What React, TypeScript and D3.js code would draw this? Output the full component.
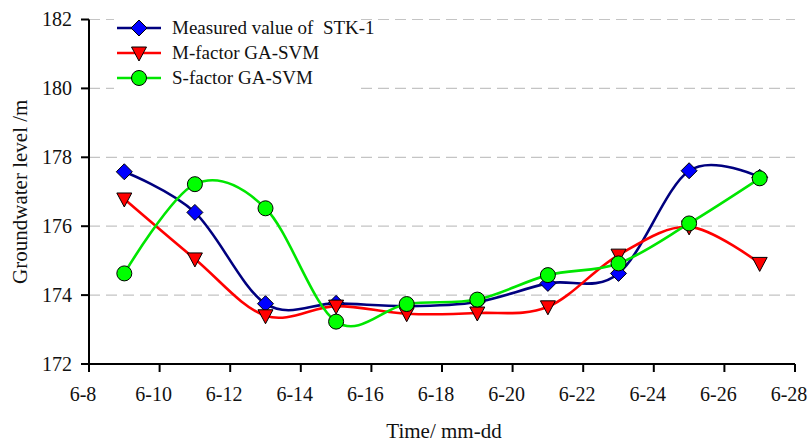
import React from "react";
import * as d3 from "d3";

// Observation dates (day of June) and tick labels
const days = [9, 11, 13, 15, 17, 19, 21, 23, 25, 27];
const xTickDays = [8, 10, 12, 14, 16, 18, 20, 22, 24, 26, 28];
const yTicks = [172, 174, 176, 178, 180, 182];

// Groundwater level series (m)
const measured = [177.58, 176.4, 173.75, 173.76, 173.68, 173.8, 174.34, 174.63, 177.61, 177.42];
const mFactor = [176.79, 175.05, 173.4, 173.68, 173.46, 173.48, 173.66, 175.16, 175.98, 174.92];
const sFactor = [174.63, 177.22, 176.52, 173.23, 173.74, 173.87, 174.58, 174.92, 176.08, 177.39];

type Marker = "diamond" | "triangle" | "circle";
const series: { name: string; values: number[]; line: string; fill: string; marker: Marker }[] = [
  { name: "Measured value of\u00a0 STK-1", values: measured, line: "#00007f", fill: "#0000ff", marker: "diamond" },
  { name: "M-factor GA-SVM", values: mFactor, line: "#ff0000", fill: "#ff0000", marker: "triangle" },
  { name: "S-factor GA-SVM", values: sFactor, line: "#00e600", fill: "#00ff00", marker: "circle" },
];

const W = 810;
const H = 443;
const left = 89;
const right = 795;
const top = 19.5;
const bottom = 364;
const FONT = "Liberation Serif";

const x = d3.scaleLinear().domain([8, 28]).range([left, right]);
const y = d3.scaleLinear().domain([172, 182]).range([bottom, top]);

function MarkerShape({ kind, cx, cy, fill }: { kind: Marker; cx: number; cy: number; fill: string }) {
  if (kind === "diamond") {
    const r = 8;
    return (
      <path
        d={`M${cx},${cy - r}L${cx + r},${cy}L${cx},${cy + r}L${cx - r},${cy}Z`}
        fill={fill}
        stroke="#000"
        strokeWidth={1}
      />
    );
  }
  if (kind === "triangle") {
    const w = 7.5;
    return (
      <path
        d={`M${cx - w},${cy - 6}L${cx + w},${cy - 6}L${cx},${cy + 8}Z`}
        fill={fill}
        stroke="#000"
        strokeWidth={1}
      />
    );
  }
  return <circle cx={cx} cy={cy} r={7.5} fill={fill} stroke="#000" strokeWidth={1} />;
}

export default function App() {
  const line = d3
    .line<[number, number]>()
    .x((d) => x(d[0]))
    .y((d) => y(d[1]))
    .curve(d3.curveCardinal.tension(0));

  const fontStyle = { fontFamily: `"${FONT}"` };

  return (
    <svg
      width={W}
      height={H}
      fontFamily={FONT}
      style={{ position: "absolute", left: 0, top: 0, background: "#fff", fontFamily: `"${FONT}"` }}
    >
      <rect x={0} y={0} width={W} height={H} fill="#fff" />

      {/* horizontal dashed grid */}
      {yTicks.slice(1).map((t) => (
        <line
          key={`g${t}`}
          x1={left}
          x2={right}
          y1={y(t)}
          y2={y(t)}
          stroke="#c4c4c4"
          strokeWidth={1.2}
          strokeDasharray="11,6"
        />
      ))}

      {/* axes */}
      <line x1={left} x2={left} y1={top} y2={bottom} stroke="#000" strokeWidth={2} />
      <line x1={left} x2={right} y1={bottom} y2={bottom} stroke="#000" strokeWidth={2} />
      {yTicks.map((t) => (
        <g key={`y${t}`}>
          <line x1={left - 8} x2={left} y1={y(t)} y2={y(t)} stroke="#000" strokeWidth={2} />
          <text x={left - 17} y={y(t)} dy="0.34em" textAnchor="end" fontSize={20} fill="#111" style={fontStyle}>
            {t}
          </text>
        </g>
      ))}
      {xTickDays.map((d) => (
        <g key={`x${d}`}>
          <line x1={x(d)} x2={x(d)} y1={bottom} y2={bottom + 8} stroke="#000" strokeWidth={2} />
          <text x={x(d) - 6} y={401} textAnchor="middle" fontSize={20} fill="#111" style={fontStyle}>
            {`6-${d}`}
          </text>
        </g>
      ))}

      {/* axis titles */}
      <text x={444} y={438} textAnchor="middle" fontSize={21} fill="#111" style={fontStyle}>
        Time/ mm-dd
      </text>
      <text
        transform={`translate(27,${(top + bottom) / 2}) rotate(-90)`}
        textAnchor="middle"
        fontSize={21}
        fill="#111"
        style={fontStyle}
      >
        Groundwater level /m
      </text>

      {/* series */}
      {series.map((s) => {
        const pts = days.map((d, i) => [d, s.values[i]] as [number, number]);
        return (
          <g key={s.name}>
            <path d={line(pts) ?? ""} fill="none" stroke={s.line} strokeWidth={2.6} />
            {pts.map((p, i) => (
              <MarkerShape key={i} kind={s.marker} cx={x(p[0])} cy={y(p[1])} fill={s.fill} />
            ))}
          </g>
        );
      })}

      {/* legend */}
      {series.map((s, i) => {
        const ly = 28 + i * 25;
        return (
          <g key={`l${i}`}>
            <rect x={114} y={ly - 11} width={246} height={22} fill="#fff" />
            <line x1={117} x2={161} y1={ly} y2={ly} stroke={s.line} strokeWidth={2.6} />
            <MarkerShape kind={s.marker} cx={139} cy={ly} fill={s.fill} />
            <text x={172} y={ly} dy="0.33em" fontSize={19} fill="#111" style={fontStyle}>
              {s.name}
            </text>
          </g>
        );
      })}
    </svg>
  );
}
